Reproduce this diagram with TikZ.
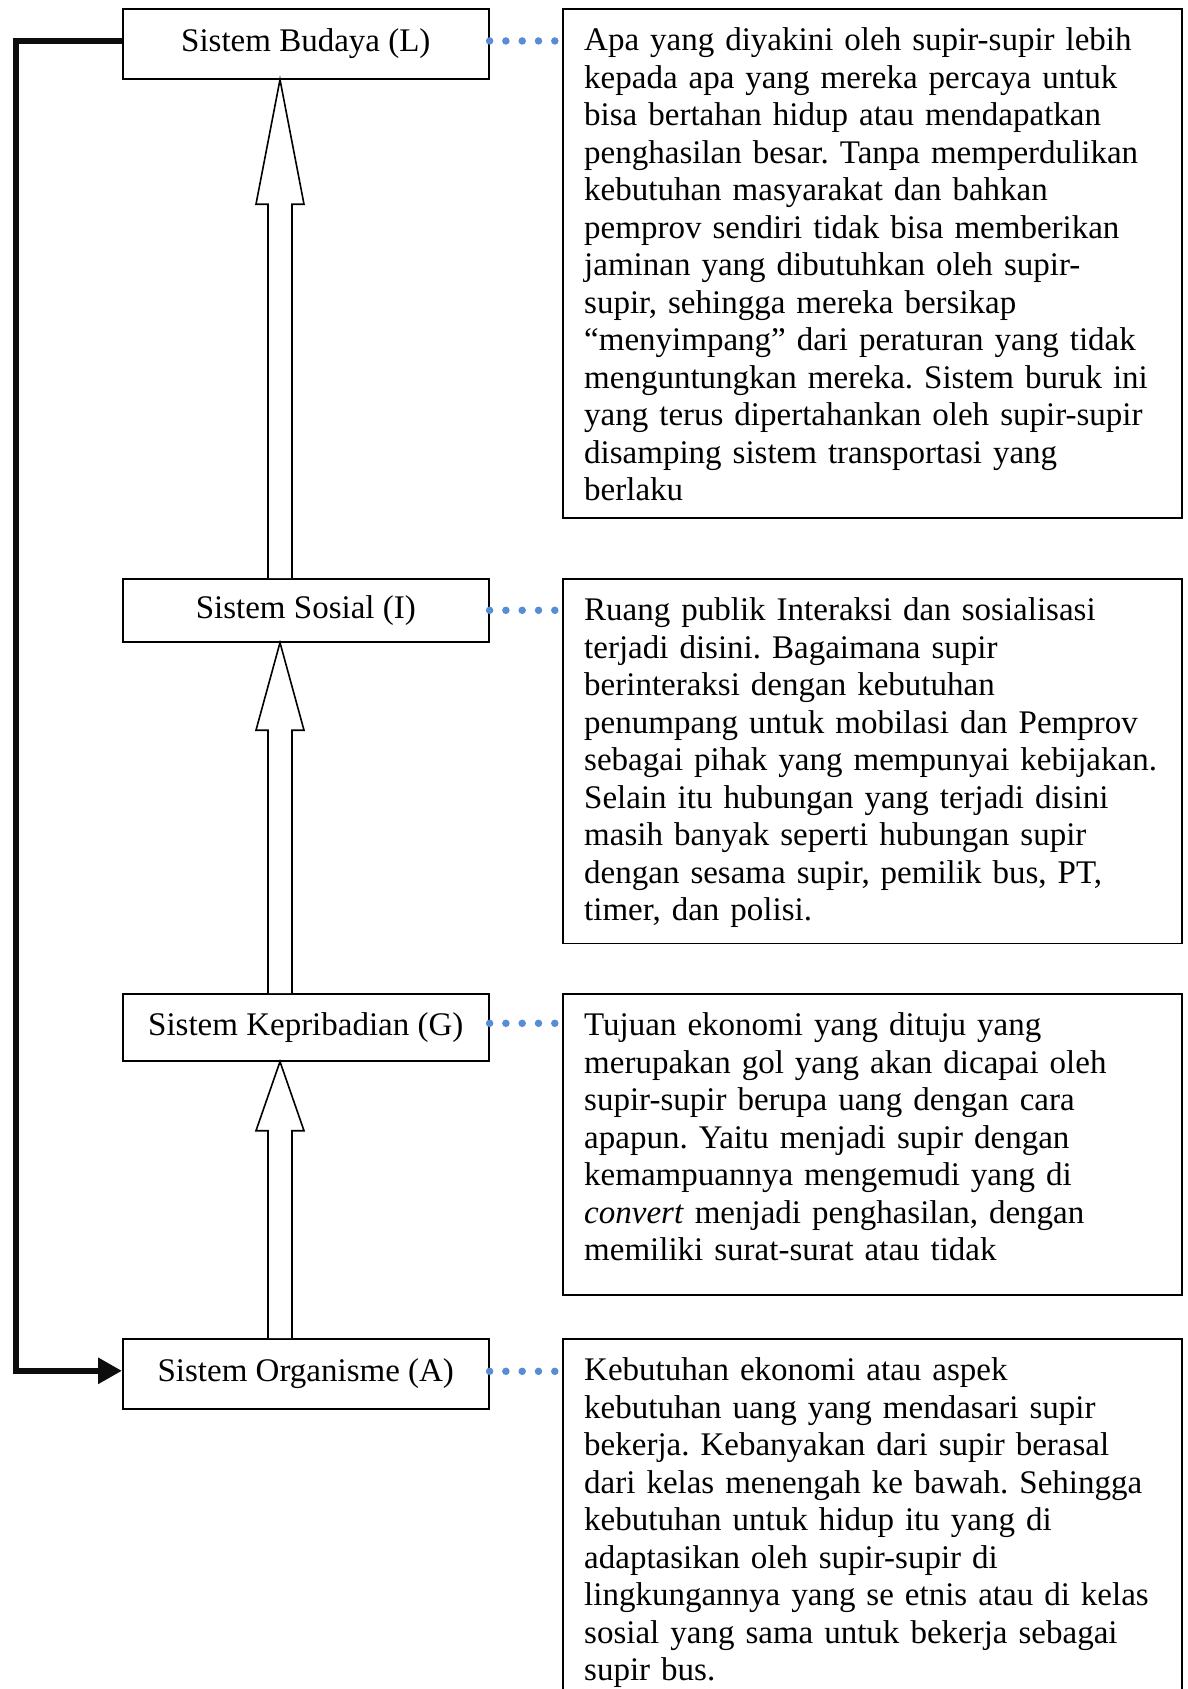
\documentclass[tikz,border=0pt]{standalone}
\usepackage{fontspec}
\setmainfont{Liberation Serif}
\usetikzlibrary{calc,arrows.meta}
\frenchspacing

\definecolor{linkblue}{RGB}{88,140,212}

% Solid up-arrow with an open (white) body, drawn from the top of one box
% to the bottom of the box above; the head takes the last quarter.
\newcommand{\hollowarrow}[2]{%
  \coordinate (ha-tail) at (#1.north -| ax);
  \coordinate (ha-tip) at (#2.south -| ax);
  \coordinate (ha-neck) at ($(ha-tail)!0.75!(ha-tip)$);
  \draw[hollow] ($(ha-tail)+(-12,0)$) -- ($(ha-neck)+(-12,0)$)
    -- ($(ha-neck)+(-24,0)$) -- (ha-tip) -- ($(ha-neck)+(24,0)$)
    -- ($(ha-neck)+(12,0)$) -- ($(ha-tail)+(12,0)$);
}

\begin{document}
\begin{tikzpicture}[x=1pt,y=-1pt,
  bodyfont/.style={font=\fontsize{33pt}{37.5pt}\selectfont},
  sysbox/.style={draw, line width=1.6pt, bodyfont, anchor=north west,
    minimum width=366pt, inner sep=0pt, text height=23pt, text depth=7pt},
  infobox/.style={draw, line width=1.6pt, anchor=north west,
    minimum width=619pt, inner sep=0pt},
  infotext/.style={bodyfont, anchor=base west, text width=640pt,
    align=left, inner sep=0pt},
  dotlink/.style={draw=linkblue, line width=7.5pt, line cap=round,
    dash pattern=on 0pt off 16.3pt},
  feedback/.style={draw=black!95, line width=6.5pt, line join=miter,
    -{Triangle[length=24pt,width=25pt]}},
  hollow/.style={draw, line width=1.6pt, fill=white, line join=miter}]

\useasboundingbox (0,0) rectangle (1187,1689);
\clip (0,0) rectangle (1187,1689);

% x positions of the arrow column and of the feedback rail
\coordinate (ax) at (280,0);
\coordinate (rail) at (16,0);

% the four subsystems
\node[sysbox, minimum height=69.7pt] (lb1) at (122,8.3) {Sistem Budaya (L)};
\node[sysbox, minimum height=63pt] (lb2) at (122,578) {Sistem Sosial (I)};
\node[sysbox, minimum height=67pt] (lb3) at (122,993) {Sistem Kepribadian (G)};
\node[sysbox, minimum height=70pt] (lb4) at (122,1338) {Sistem Organisme (A)};

% description frames
\node[infobox, minimum height=508.7pt] (rb1) at (562,8.3) {};
\node[infobox, minimum height=364.5pt] (rb2) at (562,578) {};
\node[infobox, minimum height=301pt] (rb3) at (562,993) {};
\node[infobox, minimum height=420pt] (rb4) at (562,1338) {};

% description texts
\node[infotext] (rt1) at ($(rb1.north west)+(22,42.5)$) {%
Apa yang diyakini oleh supir-supir lebih\\
kepada apa yang mereka percaya untuk\\
bisa bertahan hidup atau mendapatkan\\
penghasilan besar. Tanpa memperdulikan\\
kebutuhan masyarakat dan bahkan\\
pemprov sendiri tidak bisa memberikan\\
jaminan yang dibutuhkan oleh supir-\\
supir, sehingga mereka bersikap\\
“menyimpang” dari peraturan yang tidak\\
menguntungkan mereka. Sistem buruk ini\\
yang terus dipertahankan oleh supir-supir\\
disamping sistem transportasi yang\\
berlaku};

\node[infotext] (rt2) at ($(rb2.north west)+(22,42.5)$) {%
Ruang publik Interaksi dan sosialisasi\\
terjadi disini. Bagaimana supir\\
berinteraksi dengan kebutuhan\\
penumpang untuk mobilasi dan Pemprov\\
sebagai pihak yang mempunyai kebijakan.\\
Selain itu hubungan yang terjadi disini\\
masih banyak seperti hubungan supir\\
dengan sesama supir, pemilik bus, PT,\\
timer, dan polisi.};

\node[infotext] (rt3) at ($(rb3.north west)+(22,42.5)$) {%
Tujuan ekonomi yang dituju yang\\
merupakan gol yang akan dicapai oleh\\
supir-supir berupa uang dengan cara\\
apapun. Yaitu menjadi supir dengan\\
kemampuannya mengemudi yang di\\
\textit{convert} menjadi penghasilan, dengan\\
memiliki surat-surat atau tidak};

\node[infotext] (rt4) at ($(rb4.north west)+(22,42.5)$) {%
Kebutuhan ekonomi atau aspek\\
kebutuhan uang yang mendasari supir\\
bekerja. Kebanyakan dari supir berasal\\
dari kelas menengah ke bawah. Sehingga\\
kebutuhan untuk hidup itu yang di\\
adaptasikan oleh supir-supir di\\
lingkungannya yang se etnis atau di kelas\\
sosial yang sama untuk bekerja sebagai\\
supir bus.};

% dotted links from each subsystem to its description
\draw[dotlink] ([yshift=3pt]lb1.east) -- ([yshift=3pt]lb1.east -| rb1.west);
\draw[dotlink] (lb2.east) -- (lb2.east -| rb2.west);
\draw[dotlink] ([yshift=4pt]lb3.east) -- ([yshift=4pt]lb3.east -| rb3.west);
\draw[dotlink] ([yshift=2.5pt]lb4.east) -- ([yshift=2.5pt]lb4.east -| rb4.west);

% upward hollow arrows between the subsystems
\hollowarrow{lb2}{lb1}
\hollowarrow{lb3}{lb2}
\hollowarrow{lb4}{lb3}

% feedback from culture back down to the organism
\draw[feedback] ([yshift=3pt]lb1.west) -- ([yshift=3pt]lb1.west -| rail)
  |- ([yshift=3pt]lb4.west);

\end{tikzpicture}
\end{document}
